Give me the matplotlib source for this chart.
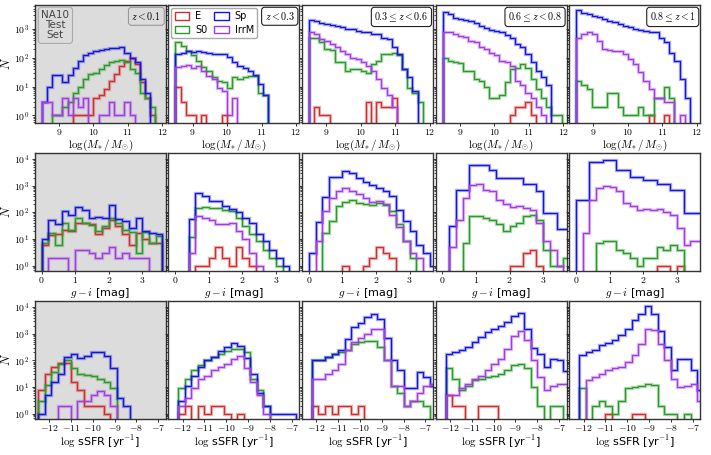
import numpy as np
import matplotlib
matplotlib.use("Agg")
import matplotlib.pyplot as plt
from matplotlib.patches import Patch
from matplotlib.ticker import FuncFormatter, NullFormatter, FixedLocator

plt.rcParams['mathtext.fontset'] = 'cm'
plt.rcParams['font.family'] = ['DejaVu Sans']

# bin edges for each row
mass_edges = np.linspace(8.5, 12.1, 25)
gi_edges = np.linspace(0.0, 3.8, 20)
ssfr_edges = np.linspace(-12.5, -6.5, 21)

z_labels = [r'$z < 0.1$', r'$z < 0.3$', r'$0.3 \leq z < 0.6$',
            r'$0.6 \leq z < 0.8$', r'$0.8 \leq z < 1$']
classes = ['E', 'S0', 'Sp', 'IrrM']
colors = {'E': '#cc2f2f', 'S0': '#2a9a2a', 'Sp': '#1515d8', 'IrrM': '#a03ce0'}

# ---- row 1: stellar mass ----
mass_E = [
    [0, 0, 0, 0, 0, 0, 1, 1, 1, 1, 4, 5, 8, 16, 27, 50, 80, 100, 60, 14, 4, 1],
    [10, 3, 1, 1, 0, 1, 0, 0, 0, 1],
    [0, 2, 1, 1, 0, 0, 0, 0, 0, 0, 0, 3, 0, 3, 2, 2, 4],
    [0, 0, 0, 0, 0, 0, 0, 0, 0, 0, 0, 0, 0, 1, 2, 2, 3, 1],
    [0, 0, 0, 0, 0, 0, 0, 0, 0, 0, 0, 0, 0, 0, 1, 0, 0, 1],
]
mass_S0 = [
    [0, 0, 1, 1, 2, 3, 6, 10, 18, 27, 30, 40, 55, 70, 80, 85, 70, 40, 30, 6, 4, 2],
    [350, 250, 170, 120, 80, 46, 36, 21, 16, 14, 9, 21, 18, 21, 24, 24, 6, 5],
    [500, 500, 340, 200, 190, 70, 70, 36, 40, 40, 36, 30, 60, 80, 130, 140, 150, 120, 40, 9, 6, 3],
    [100, 80, 70, 65, 36, 36, 18, 16, 10, 4, 4, 5, 14, 40, 45, 60, 45, 18, 8, 4, 2, 1, 1],
    [16, 11, 8, 2, 2, 2, 6, 6, 2, 1, 1, 1, 2, 1, 1, 4, 4, 10, 4],
]
mass_Sp = [
    [3, 10, 25, 25, 14, 25, 45, 80, 120, 150, 170, 190, 200, 210, 210, 230, 150, 100, 70, 18, 6],
    [130, 150, 170, 160, 165, 155, 150, 140, 135, 130, 110, 70, 50, 45, 35, 25, 12, 5],
    [2000, 1800, 1600, 1500, 1350, 1300, 1200, 1000, 950, 850, 750, 750, 650, 650, 500, 450, 230, 130, 40, 21, 7],
    [3800, 3200, 2430, 2200, 2000, 1800, 1600, 1300, 1100, 900, 850, 750, 600, 500, 300, 230, 130, 70, 36, 21, 11],
    [4500, 3600, 3200, 2800, 2500, 2200, 1900, 1700, 1500, 1300, 1150, 1000, 900, 850, 750, 750, 500, 340, 150, 80, 18, 4],
]
mass_IrrM = [
    [3, 3, 1, 1, 4, 1, 4, 2, 4, 0, 0, 1, 1, 3, 1, 1, 3, 1],
    [46, 50, 55, 45, 50, 36, 24, 18, 9, 7, 1, 4],
    [750, 650, 450, 380, 300, 230, 175, 130, 100, 90, 70, 50, 36, 18, 9, 5, 2],
    [750, 750, 650, 570, 510, 390, 340, 230, 200, 150, 120, 80, 70, 53, 16, 11, 6, 4, 2, 1],
    [500, 650, 750, 650, 390, 200, 180, 175, 170, 134, 90, 60, 31, 16, 8, 4, 4, 3, 3, 0, 1],
]

# ---- row 2: g - i colour ----
gi_E = [
    [6, 14, 15, 22, 20, 40, 40, 35, 15, 25, 50, 30, 15, 6, 17, 10, 7, 7],
    [0, 0, 0, 1, 1, 2, 5, 2, 1, 5, 2, 1],
    [0, 0, 0, 0, 0, 1, 0, 0, 1, 2, 5, 3, 2],
    [0, 0, 0, 0, 0, 0, 0, 0, 0, 0, 1, 1, 3, 4, 1],
    [0, 0, 0, 0, 0, 0, 0, 0, 0, 0, 0, 0, 1, 1, 0, 1],
]
gi_S0 = [
    [7, 17, 6, 40, 22, 60, 40, 32, 20, 30, 60, 40, 22, 18, 3, 18, 7, 13],
    [0, 0, 12, 150, 160, 150, 140, 120, 110, 60, 30, 15, 8, 4, 2, 1],
    [0, 0, 17, 46, 165, 250, 300, 220, 200, 190, 220, 190, 110, 36, 8, 2],
    [0, 0, 0, 7, 70, 70, 60, 50, 35, 20, 30, 40, 70, 80, 53, 4, 1, 1, 2],
    [0, 0, 0, 7, 8, 8, 4, 3, 2, 1, 2, 2, 5, 4, 6, 4],
]
gi_Sp = [
    [10, 50, 35, 110, 80, 160, 120, 60, 65, 60, 190, 55, 45, 26, 60, 20, 16, 15],
    [0, 0, 55, 550, 400, 260, 260, 170, 130, 100, 60, 40, 15, 8, 4, 2, 1],
    [3, 44, 360, 2100, 2150, 3500, 2850, 1900, 1400, 1050, 840, 600, 390, 125, 46, 20, 6, 3, 1],
    [0, 30, 700, 700, 5800, 5800, 6000, 3800, 1900, 1900, 1900, 1900, 1100, 1100, 600, 95, 95, 23, 23],
    [300, 300, 7700, 7700, 9500, 9500, 3800, 3800, 2050, 2050, 1600, 1600, 1100, 1100, 690, 690, 95, 95, 95],
]
gi_IrrM = [
    [0, 2, 2, 2, 0, 4, 4, 3, 2, 3, 5, 2, 3, 2, 2, 2],
    [0, 0, 3, 70, 60, 50, 36, 36, 40, 20, 10, 3, 1],
    [0, 8, 110, 340, 600, 800, 650, 500, 340, 250, 260, 200, 80, 28, 8, 3, 2],
    [0, 5, 50, 340, 1050, 1100, 700, 600, 300, 200, 160, 165, 150, 120, 40, 8, 4, 1],
    [0, 17, 300, 800, 950, 850, 600, 220, 170, 120, 130, 120, 130, 100, 80, 25, 6, 8, 8],
]

# ---- row 3: specific star formation rate ----
ssfr_E = [
    [8, 30, 55, 80, 80, 15, 8, 2, 2, 2, 1],
    [0, 1, 2, 0, 2, 1, 2, 2, 1, 0, 1],
    [0, 2, 1, 2, 1, 2, 2, 1, 2],
    [0, 5, 2, 2, 0, 0, 2, 2, 2],
    [0, 0, 0, 0, 0, 1, 0, 0, 0, 1, 1],
]
ssfr_S0 = [
    [3, 12, 36, 75, 100, 50, 31, 28, 25, 20, 15, 9],
    [0, 9, 20, 42, 65, 100, 130, 180, 230, 270, 270, 200, 20, 8, 2],
    [0, 100, 100, 130, 180, 200, 235, 420, 490, 520, 550, 320, 100, 11, 6, 2, 3, 3, 2],
    [0, 50, 20, 8, 11, 18, 20, 24, 27, 31, 42, 65, 75, 50, 10, 2, 0, 2, 2],
    [0, 9, 0, 2, 3, 2, 1, 3, 9, 10, 11, 13, 12, 2, 1, 1, 0, 1],
]
ssfr_Sp = [
    [1, 5, 15, 30, 130, 180, 120, 150, 200, 210, 150, 50, 4, 2],
    [0, 3, 11, 27, 56, 100, 130, 230, 320, 460, 350, 120, 31, 6, 2, 1, 1, 1, 1],
    [0, 100, 100, 130, 180, 235, 650, 1780, 2500, 4200, 5600, 3600, 700, 100, 42, 9, 9, 36, 24, 11],
    [0, 180, 200, 235, 320, 490, 750, 1150, 1530, 2000, 2700, 4500, 6000, 1500, 300, 180, 56, 115, 100, 40],
    [0, 155, 205, 235, 365, 450, 560, 860, 1530, 3150, 5600, 10800, 5600, 1300, 320, 42, 115, 115, 42, 8],
]
ssfr_IrrM = [
    [0, 0, 0, 2, 2, 0, 3, 3, 5, 7, 5, 2],
    [0, 2, 4, 9, 20, 27, 42, 56, 75, 115, 150, 50, 15, 5, 1],
    [0, 20, 20, 30, 45, 70, 235, 490, 700, 1000, 1530, 1500, 100, 11, 11, 2, 3, 6, 11, 13],
    [0, 5, 5, 9, 13, 20, 27, 42, 75, 115, 275, 800, 1300, 600, 100, 24, 8, 11, 13, 13],
    [0, 0, 18, 24, 31, 42, 50, 56, 87, 155, 420, 1530, 1400, 400, 100, 20, 10, 11, 13, 3],
]

rows = [
    (mass_edges, {'E': mass_E, 'S0': mass_S0, 'Sp': mass_Sp, 'IrrM': mass_IrrM},
     r'$\log(M_{*}\,/\,M_{\odot})$', (8.3, 12.1), [9, 10, 11, 12], (0.57, 6700)),
    (gi_edges, {'E': gi_E, 'S0': gi_S0, 'Sp': gi_Sp, 'IrrM': gi_IrrM},
     r'$g-i$ [mag]', (-0.2, 3.7), [0, 1, 2, 3], (0.65, 16600)),
    (ssfr_edges, {'E': ssfr_E, 'S0': ssfr_S0, 'Sp': ssfr_Sp, 'IrrM': ssfr_IrrM},
     r'$\log\,$sSFR [yr$^{-1}$]', (-12.65, -6.65), [-12, -11, -10, -9, -8, -7], (0.65, 16800)),
]


def draw_hist(ax, counts, edges, color):
    vals = np.zeros(len(edges) - 1)
    vals[:len(counts)] = counts
    vals = np.where(vals > 0, vals, 0.1)
    ax.stairs(vals, edges, baseline=0.1, color=color, lw=2.4, alpha=0.35)
    ax.stairs(vals, edges, baseline=0.1, color=color, lw=0.9)


fig, axes = plt.subplots(3, 5, figsize=(7.11, 4.55), dpi=100, sharey='row')
fig.subplots_adjust(left=0.049, right=0.985, top=0.989, bottom=0.08,
                    wspace=0.02, hspace=0.26)

for r, (edges, data, xlabel, xlim, xticks, ylim) in enumerate(rows):
    for c in range(5):
        ax = axes[r, c]
        ax.set_zorder(3 - r)
        for cls in classes:
            draw_hist(ax, data[cls][c], edges, colors[cls])
        ax.set_yscale('log')
        ax.set_ylim(*ylim)
        ax.set_xlim(*xlim)
        ax.xaxis.set_major_locator(FixedLocator(xticks))
        ax.xaxis.set_major_formatter(FuncFormatter(lambda v, p: r'$%d$' % round(v)))
        ax.yaxis.set_major_formatter(FuncFormatter(lambda v, p: r'$10^{%d}$' % round(np.log10(v))))
        ax.yaxis.set_minor_formatter(NullFormatter())
        ax.tick_params(labelsize=7, length=2.5, width=0.7, pad=1.5, color='#333333')
        ax.tick_params(axis='x', pad=0.8)
        ax.tick_params(which='minor', length=1.5, width=0.5)
        ax.set_xlabel(xlabel, fontsize=8, labelpad=0.3)
        for sp in ax.spines.values():
            sp.set_color('#333333')
            sp.set_linewidth(1.0)
        if c == 0:
            ax.set_facecolor('#dcdcdc')
            ax.set_ylabel(r'$N$', fontsize=9, labelpad=0.5)
        else:
            ax.tick_params(labelleft=False)

# redshift boxes on the top row
for c in range(5):
    ax = axes[0, c]
    if c == 0:
        box = dict(boxstyle='round,pad=0.3', fc='#dcdcdc', ec='#999999', lw=0.8)
    else:
        box = dict(boxstyle='round,pad=0.3', fc='white', ec='#222222', lw=0.8)
    ax.text(0.965, 0.955, z_labels[c], transform=ax.transAxes, ha='right', va='top',
            fontsize=7.2, bbox=box, zorder=5)

axes[0, 0].text(0.05, 0.955, 'NA10\nTest\nSet', transform=axes[0, 0].transAxes,
                ha='left', va='top', multialignment='center', fontsize=7.5,
                color='#444444', linespacing=1.0,
                bbox=dict(boxstyle='round,pad=0.3', fc='#dcdcdc', ec='#aaaaaa', lw=0.8),
                zorder=5)

handles = [Patch(facecolor='none', edgecolor=colors[k], lw=1.0, label=k) for k in classes]
axes[0, 1].legend(handles=handles, loc='upper left', ncol=2, fontsize=7,
                  handlelength=1.5, handleheight=0.8, columnspacing=0.7,
                  handletextpad=0.6, labelspacing=0.35, borderpad=0.35,
                  borderaxespad=0.3, fancybox=True, edgecolor='#aaaaaa',
                  framealpha=1.0)

fig.savefig('out.png', dpi=100)
